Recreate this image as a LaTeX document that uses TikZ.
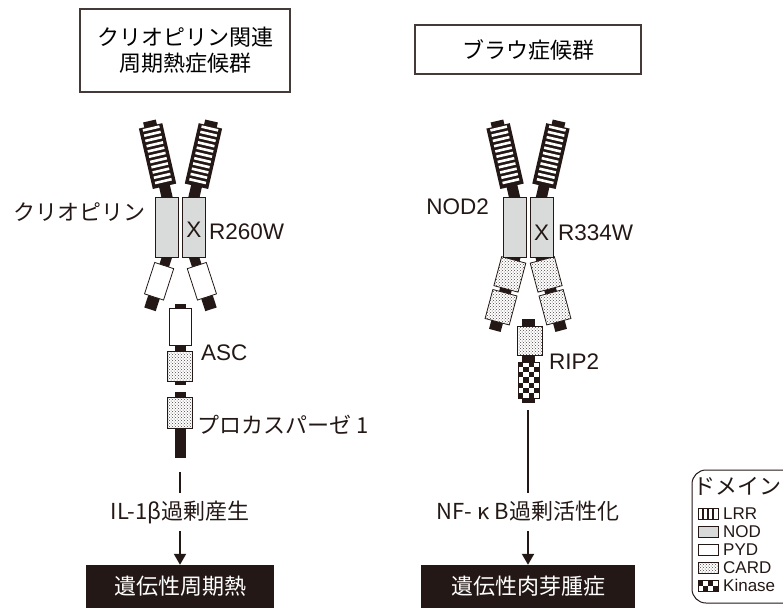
\documentclass[tikz,border=0pt]{standalone}
\usepackage{fontspec}
\setmainfont{Noto Sans CJK JP}
\newfontfamily\latin{Liberation Sans}
\usetikzlibrary{arrows.meta,patterns}
\definecolor{ink}{RGB}{35,24,21}
\definecolor{nodgray}{RGB}{217,219,219}

\begin{document}
\begin{tikzpicture}[x=1pt, y=-1pt, >={Triangle[width=12pt,length=11pt]},
  lbl/.style={text=ink, inner sep=0pt, font=\fontsize{22}{26}\selectfont},
  tag/.style={text=ink, inner sep=0pt, font=\latin\fontsize{22.5}{26}\selectfont},
  key/.style={text=ink, inner sep=0pt, font=\latin\fontsize{17}{18}\selectfont},
  mid/.style={lbl, text height=17pt, text depth=3pt, inner ysep=9pt},
  tbox/.style={draw=ink!85, line width=1.2pt, fill=white, align=center, font=\fontsize{22}{26}\selectfont},
  dbox/.style={fill=ink, text=white, minimum height=43pt, font=\fontsize{22}{26}\selectfont},
  nod/.style={draw=ink, line width=0.8pt, fill=nodgray, inner sep=0pt, minimum width=23pt, minimum height=60pt},
  pyd/.style={draw=ink, line width=0.8pt, fill=white, inner sep=0pt},
  card/.style={draw=ink, line width=0.8pt, preaction={fill=white}, pattern=crosshatch dots, pattern color=ink!80, inner sep=0pt},
  conn/.style={draw=ink, line width=2pt},
  pics/lrr/.style={code={
    \fill[ink] (-5.5,2) rectangle (5.5,-13); \fill[ink] (-12,-11) rectangle (12,-73); \fill[ink] (-6.5,-72) rectangle (6.5,-78);
    \foreach \i in {0,...,10} \fill[white] (-8.5,-15-5.4*\i) rectangle (8.5,-17.6-5.4*\i);}},
  pics/pydarm/.style={code={
    \fill[ink] (-5,-2) rectangle (5,12); \fill[ink] (-6,40) rectangle (6,55); \path[pyd] (-10,9) rectangle (10,42);}},
  pics/cardarm/.style={code={
    \fill[ink] (-6,-2) rectangle (6,76); \path[card] (-12.5,3) rectangle (12.5,33); \path[card] (-12.5,37) rectangle (12.5,67);}}]
\useasboundingbox (0,0) rectangle (783,608);

\node[tbox, minimum width=210pt, minimum height=83pt] (cryohead) at (185,50.5) {クリオピリン関連\\周期熱症候群};
\node[tbox, minimum width=226pt, minimum height=49pt] (blauhead) at (528,49.5) {ブラウ症候群};

% dimers: arms first, NOD halves on top
\foreach \c in {180.5, 528} { \pic[rotate=13] at (\c-13.5,197) {lrr}; \pic[rotate=-13] at (\c+13.5,197) {lrr}; }
\pic[rotate=-18] at (167,257) {pydarm}; \pic[rotate=18] at (194,257) {pydarm};
\pic[rotate=-15] at (514.5,257) {cardarm}; \pic[rotate=15] at (541.5,257) {cardarm};
\foreach \c/\p in {180.5/cryo, 528/nod} { \node[nod] (\p-a) at (\c-13.5,227) {}; \node[nod] (\p-b) at (\c+13.5,227) {}; }
\node[tag] at (194,230) {X}; \node[tag] at (541.5,233) {X};
\node[lbl, anchor=east] (cryo) at (146,212) {クリオピリン}; \node[tag, anchor=west] (r260) at (209,232) {R260W};
\node[tag, anchor=east] (nod2) at (489,207) {NOD2}; \node[tag, anchor=west] (r334) at (558,233) {R334W};

% ASC and procaspase-1
\fill[ink] (174.5,304) rectangle (185.5,385);
\node[pyd, minimum width=22pt, minimum height=37pt] (asc-p) at (180,326.5) {};
\node[card, minimum width=25pt, minimum height=30pt] (asc-c) at (180,366) {};
\fill[ink] (174.5,392) rectangle (185.5,458);
\node[card, minimum width=25pt, minimum height=31pt] (casp) at (180,412.5) {};
\node[tag, anchor=west] (asc) at (201,353) {ASC}; \node[lbl, anchor=west] (casplbl) at (197,425) {プロカスパーゼ 1};

% RIP2
\fill[ink] (522,319) rectangle (535,403);
\node[card, minimum width=25pt, minimum height=29pt] (rip-c) at (529.5,340.5) {};
\node[pyd, minimum width=21pt, minimum height=36pt] (rip-k) at (528.5,380) {};
\foreach \j in {0,...,6} \foreach \i in {0,2} \fill[ink] ({518+(\i+mod(\j,2))*5.25},{362+\j*36/7}) rectangle ++(5.25,36/7);
\node[tag, anchor=west] (rip) at (549,362) {RIP2};

% outcomes
\coordinate (t1) at (180,472); \coordinate (t2) at (528,410);
\node[mid] (il) at (180,512) {IL-1β過剰産生};
\node[mid] (nfkb) at (528,512) {NF-\hspace{5pt}κ\hspace{5pt}B過剰活性化};
\node[dbox, minimum width=188pt] (fever) at (180,586.5) {遺伝性周期熱};
\node[dbox, minimum width=214pt] (gran) at (528,586.5) {遺伝性肉芽腫症};
\draw[conn] (t1) -- (il); \draw[conn, ->] (il) -- (fever);
\draw[conn] (t2) -- (nfkb); \draw[conn, ->] (nfkb) -- (gran);

% legend
\begin{scope}
\clip (0,0) rectangle (783,608);
\draw[ink, line width=1pt, rounded corners=14pt] (692,470) rectangle (800,603);
\end{scope}
\node[lbl, anchor=west] (dom) at (693,486) {ドメイン};
\draw[ink, line width=0.9pt] (698,508) rectangle (718,519); \foreach \x in {703,708,713} \draw[ink, line width=1.2pt] (\x,508) -- (\x,519);
\path[nod] (698,526.5) rectangle (718,537.5); \path[pyd] (698,544.5) rectangle (718,555.5); \path[card] (698,562.5) rectangle (718,573.5);
\path[pyd] (698,580.5) rectangle (718,591.5);
\foreach \j in {0,1} \foreach \i in {0,2} \fill[ink] ({698+(\i+\j)*5},{580.5+\j*5.5}) rectangle ++(5,5.5);
\foreach \t [count=\k from 0] in {LRR,NOD,PYD,CARD,Kinase} \node[key, anchor=west] at (723,513.5+18*\k) {\t};
\end{tikzpicture}
\end{document}
